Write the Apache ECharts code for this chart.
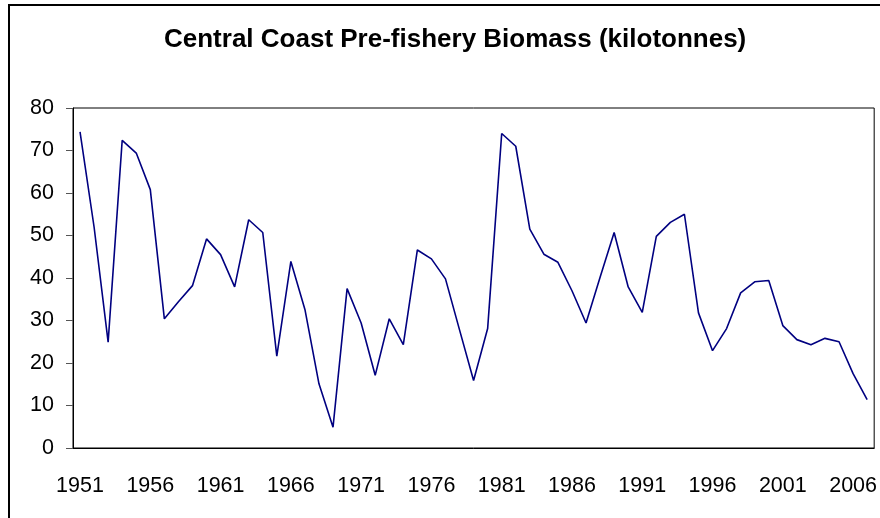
<!DOCTYPE html>
<html>
<head>
<meta charset="utf-8">
<script src="https://cdn.jsdelivr.net/npm/echarts@6/dist/echarts.min.js"></script>
<style>
html,body{margin:0;padding:0;background:#fff;}
#chart{width:880px;height:518px;}
</style>
</head>
<body>
<div id="chart"></div>
<script>
var titleText = 'Central Coast Pre-fishery Biomass (kilotonnes)';
var years = [];
for (var y = 1951; y <= 2007; y++) years.push(String(y));
var biomass = [
  74.4, 52.0, 24.9, 72.4, 69.4, 60.8, 30.4, 34.4, 38.2, 49.2,
  45.5, 37.9, 53.7, 50.7, 21.6, 43.9, 32.6, 15.1, 4.9, 37.5,
  29.4, 17.1, 30.4, 24.3, 46.6, 44.5, 39.8, 27.8, 15.9, 28.1,
  74.0, 71.0, 51.5, 45.6, 43.7, 37.0, 29.4, 40.2, 50.7, 37.9,
  31.9, 49.8, 53.1, 55.0, 31.8, 22.9, 28.1, 36.5, 39.1, 39.4,
  28.8, 25.5, 24.3, 25.8, 25.0, 17.5, 11.4
];
var yMin = 0, yMax = 80, yStep = 10;

var chart = echarts.init(document.getElementById('chart'));
chart.setOption({
  animation: false,
  backgroundColor: '#fff',
  textStyle: { fontFamily: 'Liberation Sans, Arial, sans-serif' },
  title: {
    text: titleText,
    left: 164,
    top: 27,
    padding: 0,
    textStyle: { fontFamily: 'Liberation Sans, Arial, sans-serif', fontWeight: 'bold', fontSize: 26, color: '#000' }
  },
  graphic: [{
    type: 'rect',
    shape: { x: 9, y: 5, width: 900, height: 600 },
    style: { fill: 'none', stroke: '#000', lineWidth: 2 },
    silent: true
  }],
  grid: {
    left: 73, right: 5, top: 108, bottom: 70,
    show: true, borderColor: '#000', borderWidth: 1, backgroundColor: '#fff'
  },
  xAxis: {
    type: 'category',
    data: years,
    boundaryGap: true,
    axisLine: { lineStyle: { color: '#000', width: 1 } },
    axisTick: { interval: 4, length: 7, lineStyle: { color: '#555' } },
    axisLabel: { interval: 4, margin: 27, fontSize: 21.5, color: '#000' },
    splitLine: { show: false }
  },
  yAxis: {
    type: 'value',
    min: yMin, max: yMax, interval: yStep,
    axisLine: { show: true, lineStyle: { color: '#000', width: 1 } },
    axisTick: { show: true, length: 7, lineStyle: { color: '#555' } },
    axisLabel: { margin: 19, fontSize: 21.5, color: '#000' },
    splitLine: { show: false }
  },
  series: [{
    type: 'line',
    data: biomass,
    symbol: 'none',
    lineStyle: { color: '#000080', width: 1.6 },
    itemStyle: { color: '#000080' }
  }]
});
</script>
</body>
</html>
